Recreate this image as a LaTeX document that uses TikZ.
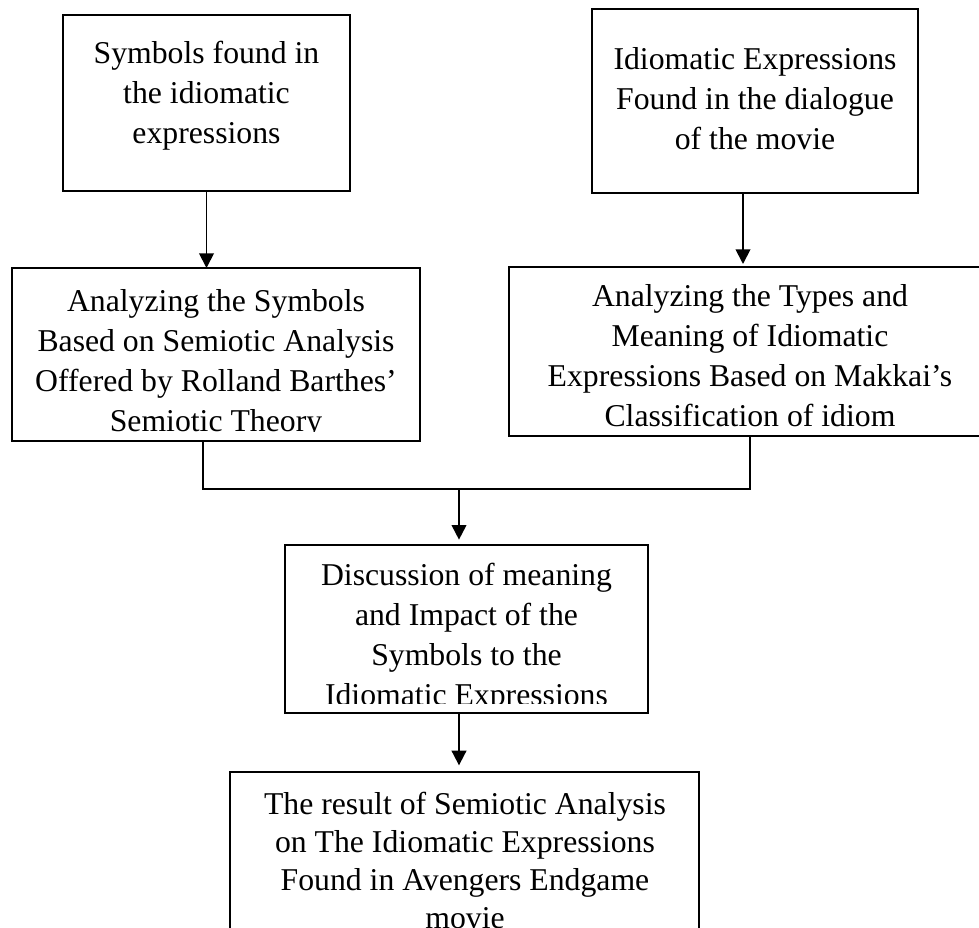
\documentclass[tikz,border=0pt]{standalone}
\usepackage{fontspec}
\setmainfont{Liberation Serif}
\usetikzlibrary{arrows.meta, positioning, calc}

\tikzset{
  box/.style={draw, line width=1.6pt, rectangle, inner sep=0pt, outer sep=0pt},
  txt/.style={anchor=north, align=center, inner sep=0pt, font=\fontsize{23.8pt}{30pt}\selectfont},
  arr/.style={line width=1.4pt, -{Triangle[length=11pt,width=11pt]}},
  link/.style={line width=0.8pt}
}

\begin{document}
\begin{tikzpicture}[x=0.75pt,y=0.75pt,yscale=-1,xscale=1]
\useasboundingbox (0,0) rectangle (979,928);
\clip (0,0) rectangle (979,928);

%Boxes
\node[box, minimum width=215.25pt, minimum height=132pt] (b1) at (206.5,103) {};
\node[box, minimum width=244.5pt, minimum height=138pt] (b2) at (755,101) {};
\node[box, minimum width=306pt, minimum height=129.75pt] (b3) at (216,354.5) {};
\node[box, minimum width=361.5pt, minimum height=126.75pt] (b4) at (750,351.5) {};
\node[box, minimum width=272.25pt, minimum height=126pt] (b5) at (466.5,629) {};
\node[box, minimum width=351.75pt, minimum height=141pt] (b6) at (464.5,866) {};

% Text Node
\begin{scope}
\clip (b1.north west) rectangle ($(b1.south east)+(0,-10)$);
\node[txt] (t1) at (206.5,41) {Symbols found in\\the idiomatic\\expressions};
\end{scope}
% Text Node
\begin{scope}
\clip (b2.north west) rectangle ($(b2.south east)+(0,-10)$);
\node[txt] (t2) at (755,47) {Idiomatic Expressions\\Found in the dialogue\\of the movie};
\end{scope}
% Text Node
\begin{scope}
\clip (b3.north west) rectangle ($(b3.south east)+(0,-10)$);
\node[txt] (t3) at (216,289) {Analyzing the Symbols\\Based on Semiotic Analysis\\Offered by Rolland Barthes’\\Semiotic Theory};
\end{scope}
% Text Node
\begin{scope}
\clip (b4.north west) rectangle ($(b4.south east)+(0,-7)$);
\node[txt] (t4) at (750,284) {Analyzing the Types and\\Meaning of Idiomatic\\Expressions Based on Makkai’s\\Classification of idiom};
\end{scope}
% Text Node
\begin{scope}
\clip (b5.north west) rectangle ($(b5.south east)+(0,-10)$);
\node[txt] (t5) at (466.5,563) {Discussion of meaning\\and Impact of the\\Symbols to the\\Idiomatic Expressions};
\end{scope}
% Text Node
\node[txt, font=\fontsize{23.8pt}{28.5pt}\selectfont] (t6) at (465,792) {The result of Semiotic Analysis\\on The Idiomatic Expressions\\Found in Avengers Endgame\\movie};

%Straight Lines
\coordinate (jn) at (459,489);
\draw[arr] (b1.south) -- (b1.south |- b3.north);
\draw[arr] ($(b2.south)+(-12,0)$) -- ($(b2.south |- b4.north)+(-12,-3)$);
\draw[link] ($(b3.south)+(-13,0)$) |- (jn) -| (b4.south);
\draw[arr, shorten >=4pt] (jn) -- (jn |- b5.north);
\draw[arr, shorten >=5pt] (jn |- b5.south) -- (jn |- b6.north);

\end{tikzpicture}
\end{document}
